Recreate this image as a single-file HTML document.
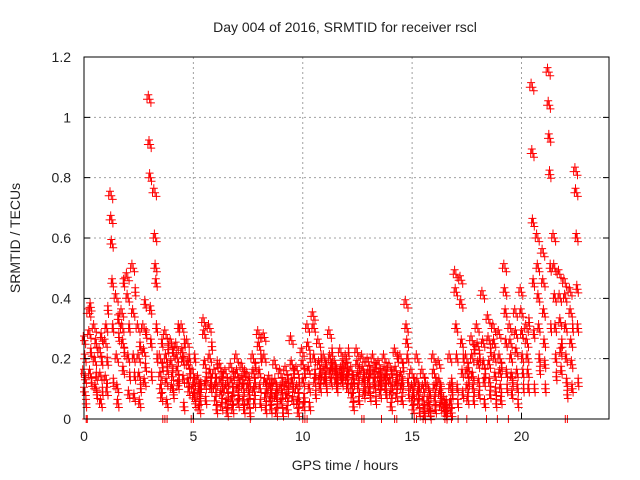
<!DOCTYPE html>
<html><head><meta charset="utf-8"><style>
body{margin:0;background:#fff}
svg{display:block;font-family:"Liberation Sans",sans-serif}
</style></head><body>
<svg id="c" width="640" height="480">
<defs><clipPath id="pc"><rect x="80" y="50" width="533" height="375"/></clipPath></defs>
<text x="345" y="32" text-anchor="middle" font-size="14" fill="#222">Day 004 of 2016, SRMTID for receiver rscl</text>
<text x="345" y="470" text-anchor="middle" font-size="14" fill="#222">GPS time / hours</text>
<text transform="translate(20,238) rotate(-90)" text-anchor="middle" font-size="14" fill="#222">SRMTID / TECUs</text>
<g id="grid"></g><g id="marks" clip-path="url(#pc)"></g><g id="axes"></g>
</svg>
<script>
const xTicks=[0,5,10,15,20];
const yTicks=[0,0.2,0.4,0.6,0.8,1,1.2];
const yTickLabels=["0","0.2","0.4","0.6","0.8","1","1.2"];
const binStart=-0.12, binStep=0.25;
const hours0to6=[[.15,.26,.09,.2,.13,.05],[.35,.28,.15,.37,.22,.12],[.3,.19,.1,.25,.14,.08],[.22,.14,.05,.27,.19,.09],[.25,.13,.3,.09,.19,.36],[.74,.66,.58,.45,.3,.12],[.4,.2,.1,.05,.33,.27],[.35,.3,.25,.16,.45,.22],[.47,.4,.2,.08,.3,.14],[.5,.35,.2,.07,.14,.42],[.3,.2,.14,.05,.24,.1],[.3,.22,.12,.38,.17,.28],[1.06,.91,.8,.36,.25,.14],[.75,.6,.5,.45,.3,.2],[.2,.14,.1,.07,.25,.17],[.28,.2,.12,.05,.16,.23],[.25,.18,.1,.14,.22,.08],[.24,.2,.16,.11,.3,.13],[.3,.22,.19,.13,.04,.25],[.25,.18,.12,.09,.2,.15],[.15,.1,.07,.12,.2,.05],[.13,.08,.03,.1,.06,.11],[.32,.28,.18,.11,.06,.14],[.3,.2,.15,.1,.12,.24]];
const hours6to12=[[.15,.1,.06,.12,.03,.18],[.17,.12,.08,.04,.14,.1],[.15,.1,.05,.02,.12,.07],[.17,.12,.06,.03,.09,.14],[.2,.15,.1,.05,.08,.12],[.17,.13,.1,.06,.03,.15],[.14,.1,.05,.08,.12,.02],[.2,.15,.09,.05,.12,.17],[.28,.24,.15,.1,.05,.2],[.27,.2,.12,.07,.03,.1],[.13,.1,.06,.03,.08,.12],[.18,.12,.07,.02,.1,.05],[.15,.1,.05,.08,.12,.02],[.16,.11,.07,.03,.13,.09],[.26,.18,.12,.06,.1,.15],[.16,.1,.05,.02,.07,.12],[.22,.18,.12,.04,.07,.15],[.3,.24,.16,.1,.04,.2],[.34,.3,.2,.12,.15,.08],[.25,.18,.13,.1,.15,.2],[.2,.16,.12,.14,.18,.1],[.28,.2,.15,.12,.17,.22],[.18,.15,.12,.16,.1,.13],[.22,.16,.14,.12,.18,.15]];
const hours12to18=[[.2,.17,.13,.1,.15,.22],[.16,.1,.07,.13,.04,.12],[.22,.18,.14,.1,.06,.16],[.2,.16,.12,.08,.14,.1],[.19,.15,.12,.09,.16,.07],[.2,.15,.12,.1,.17,.06],[.18,.14,.11,.08,.15,.12],[.2,.16,.13,.1,.08,.15],[.17,.12,.08,.04,.15,.1],[.22,.16,.11,.07,.13,.2],[.2,.14,.1,.06,.12,.17],[.38,.3,.25,.2,.12,.08],[.15,.1,.06,.03,.08,.12],[.2,.12,.08,.05,.1,.02],[.15,.1,.06,.03,.01,.12],[.1,.06,.04,.02,.08,.01],[.2,.15,.1,.06,.03,.12],[.18,.12,.08,.04,.1,.06],[.06,.04,.02,.01,.05,.03],[.2,.1,.05,.02,.12,.08],[.48,.42,.3,.2,.1,.05],[.46,.38,.25,.15,.08,.2],[.2,.15,.1,.06,.17,.12],[.26,.2,.14,.1,.06,.23]];
const hours18to23=[[.3,.24,.18,.12,.08,.2],[.41,.25,.18,.12,.05,.15],[.33,.26,.18,.12,.08,.22],[.3,.25,.2,.14,.09,.05],[.28,.2,.15,.1,.06,.17],[.5,.42,.35,.25,.15,.1],[.3,.25,.2,.14,.08,.12],[.35,.28,.22,.15,.1,.05],[.42,.35,.28,.2,.15,.1],[.3,.25,.2,.15,.1,.32],[1.1,.88,.65,.45,.28,.1],[.6,.5,.4,.3,.2,.16],[.55,.45,.35,.25,.18,.1],[1.15,1.04,.93,.81,.5,.3],[.6,.5,.4,.3,.2,.14],[.48,.4,.32,.22,.16,.25],[.45,.4,.3,.2,.12,.08],[.42,.35,.25,.18,.1,.3],[.82,.75,.6,.43,.3,.12]];
const zeroTimes=[0.1,0.15,3.6,3.7,3.8,4.9,5.0,7.6,10.0,10.1,10.2,12.7,12.8,13.6,14.2,14.3,15.1,15.2,15.5,16.5,16.6,16.8,17.1,17.5,18.4,18.9,19.4,22.0,22.1];

const NS="http://www.w3.org/2000/svg";
const L=84,R=609,T=57,B=419,XMAX=24,YMAX=1.2;
const xs=v=>L+(R-L)*v/XMAX, ys=v=>B-(B-T)*v/YMAX;
function mk(tag,attrs,parent){const e=document.createElementNS(NS,tag);for(const k in attrs)e.setAttribute(k,attrs[k]);parent.appendChild(e);return e;}
const grid=document.getElementById('grid'),marks=document.getElementById('marks'),axes=document.getElementById('axes');
xTicks.forEach(t=>{if(t>0){const g=mk('line',{x1:xs(t),x2:xs(t),y1:T,y2:B,stroke:'#a0a0a0','stroke-dasharray':'2,3'},grid);

}
const tk=mk('line',{x1:xs(t),x2:xs(t),y1:B,y2:B-6,stroke:'#000'},axes);


const lb=mk('text',{x:xs(t),y:B+22,'text-anchor':'middle','font-size':14,fill:'#222'},axes);lb.textContent=t;

});
yTicks.forEach((t,i)=>{if(t>0&&t<YMAX){const g=mk('line',{x1:L,x2:R,y1:ys(t),y2:ys(t),stroke:'#a0a0a0','stroke-dasharray':'2,3'},grid);

}
const tk=mk('path',{d:`M${L},${ys(t)}h6M${R},${ys(t)}h-6`,stroke:'#000'},axes);


const lb=mk('text',{x:L-13,y:ys(t)+5,'text-anchor':'end','font-size':14,fill:'#222'},axes);lb.textContent=yTickLabels[i];

});
const fr=mk('rect',{x:L,y:T,width:R-L,height:B-T,fill:'none',stroke:'#000'},axes);


let d='';
function plus(t,v){const x=xs(t),y=ys(v);d+=`M${(x-4).toFixed(1)},${y.toFixed(1)}h8M${x.toFixed(1)},${(y-4).toFixed(1)}v8`;}
const rows=[].concat(hours0to6,hours6to12,hours12to18,hours18to23);
rows.forEach((row,i)=>{const t=binStart+i*binStep;row.forEach((v,k)=>{plus(t+k*0.04,v);plus(t+0.12+k*0.022,v);plus(t+0.06+k*0.03,v+0.015);plus(t+0.18+k*0.012,v-0.012);});});
zeroTimes.forEach(t=>plus(t,0));
const p=mk('path',{d:d,stroke:'#ff0000','stroke-width':1,fill:'none'},marks);


</script>
</body></html>
